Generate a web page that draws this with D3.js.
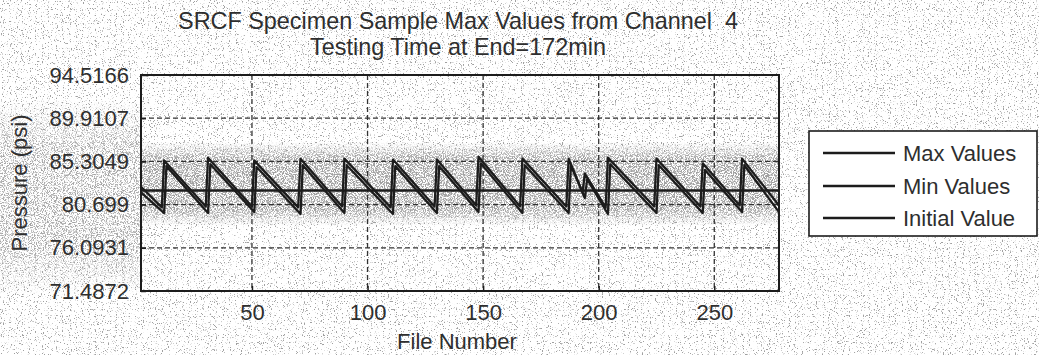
<!DOCTYPE html>
<html>
<head>
<meta charset="utf-8">
<script src="https://cdn.jsdelivr.net/npm/d3@7"></script>
<style>
  html, body { margin: 0; padding: 0; background: #fff; }
  svg { display: block; font-family: "Liberation Sans", Arial, sans-serif; }
</style>
</head>
<body>
<svg id="chart" width="1039" height="355"></svg>
<script>
// ---- data -------------------------------------------------------------
const fileRange = [2, 278];
const xTicks = [50, 100, 150, 200, 250];
const yTicks = [71.4872, 76.0931, 80.699, 85.3049, 89.9107, 94.5166];
const yTickLabels = ["71.4872", "76.0931", "80.699", "85.3049", "89.9107", "94.5166"];

// Max Values: file numbers and values at the corners of the sawtooth
const maxFiles = [2, 11, 12, 30, 31, 50, 51, 70, 71, 89, 90, 110, 111, 129, 130,
  147, 148, 166, 167, 186, 187, 193, 194, 203, 204, 224, 225, 244, 245, 261, 262, 278];
const maxValues = [82.6, 80.4, 85.4, 80.5, 85.7, 80.5, 85.4, 80.4, 85.6, 80.5, 85.6, 80.4, 85.5, 80.5, 85.5,
  80.6, 85.8, 80.5, 85.6, 80.5, 85.6, 82.0, 84.0, 80.4, 85.7, 80.5, 85.6, 80.5, 85.1, 80.6, 85.6, 80.6];

// Min Values
const minFiles = [2, 12, 13, 31, 32, 51, 52, 71, 72, 90, 91, 111, 112, 130, 131,
  148, 149, 167, 168, 187, 188, 194, 195, 204, 205, 225, 226, 245, 246, 262, 263, 278];
const minValues = [82.0, 79.8, 84.8, 79.8, 85.0, 79.9, 84.7, 79.7, 84.9, 79.8, 84.9, 79.7, 84.8, 79.8, 84.8,
  79.9, 85.1, 79.8, 84.9, 79.8, 84.9, 81.4, 83.4, 79.7, 85.0, 79.8, 84.9, 79.8, 84.4, 79.9, 84.9, 79.9];

const initialValue = 82.2;

const titleLines = ["SRCF Specimen Sample Max Values from Channel  4", "Testing Time at End=172min"];
const legendLabels = ["Max Values", "Min Values", "Initial Value"];

// ---- layout -----------------------------------------------------------
const svg = d3.select("#chart");
const W = 1039, H = 355;
const plot = { left: 141, right: 779, top: 75, bottom: 291 };
const ink = "#1c1c1c";
const textInk = "#2e2e2e";

const x = d3.scaleLinear().domain(fileRange).range([plot.left, plot.right]);
const y = d3.scaleLinear().domain([yTicks[0], yTicks[yTicks.length - 1]]).range([plot.bottom, plot.top]);

// ---- paper grain ------------------------------------------------------
const defs = svg.append("defs");
function grainFilter(id, seed, freq, gain, bias, tone) {
  const f = defs.append("filter").attr("id", id)
    .attr("x", 0).attr("y", 0).attr("width", "100%").attr("height", "100%")
    .attr("filterUnits", "objectBoundingBox");
  f.append("feTurbulence").attr("type", "fractalNoise")
    .attr("baseFrequency", freq).attr("numOctaves", 2).attr("seed", seed).attr("result", "n");
  f.append("feColorMatrix").attr("in", "n").attr("type", "matrix")
    .attr("values", `0 0 0 0 ${tone}  0 0 0 0 ${tone}  0 0 0 0 ${tone}  ${gain} 0 0 0 ${bias}`);
}
grainFilter("grainLight", 4, 0.85, 9, -5.5, 0.35);
grainFilter("grainBand", 9, 0.9, 6.5, -2.85, 0.36);
grainFilter("grainSide", 13, 0.9, 7, -3.5, 0.38);

function fadeMask(id, x0, y0, w, h, vertical, stops) {
  const g = defs.append("linearGradient").attr("id", id + "Grad")
    .attr("x1", 0).attr("y1", 0).attr("x2", vertical ? 0 : 1).attr("y2", vertical ? 1 : 0);
  stops.forEach(([o, a]) => g.append("stop").attr("offset", o)
    .attr("stop-color", "#fff").attr("stop-opacity", a));
  defs.append("mask").attr("id", id).attr("maskUnits", "userSpaceOnUse")
    .append("rect").attr("x", x0).attr("y", y0).attr("width", w).attr("height", h)
    .attr("fill", `url(#${id}Grad)`);
}
fadeMask("bandMask", 0, 142, W, 84, true, [[0, 0], [0.2, 1], [0.8, 1], [1, 0]]);
fadeMask("sideMask", 0, 100, 140, 195, true, [[0, 0], [0.25, 0.9], [0.75, 0.9], [1, 0]]);

svg.append("rect").attr("width", W).attr("height", H).attr("fill", "#fff");
svg.append("rect").attr("width", W).attr("height", H).attr("fill", "#fff")
  .attr("filter", "url(#grainLight)");
svg.append("g").attr("mask", "url(#sideMask)")
  .append("rect").attr("x", 0).attr("y", 100).attr("width", 140).attr("height", 195)
  .attr("fill", "#fff").attr("filter", "url(#grainSide)");
svg.append("g").attr("mask", "url(#bandMask)")
  .append("rect").attr("x", plot.left).attr("y", 142).attr("width", plot.right - plot.left).attr("height", 84)
  .attr("fill", "#fff").attr("filter", "url(#grainBand)");

// ---- grid -------------------------------------------------------------
const grid = svg.append("g").attr("stroke", "#333").attr("stroke-width", 1.3)
  .attr("stroke-dasharray", "5,3").attr("fill", "none");
grid.selectAll("line.gx").data(xTicks).join("line").attr("class", "gx")
  .attr("x1", d => x(d)).attr("x2", d => x(d)).attr("y1", plot.top).attr("y2", plot.bottom);
grid.selectAll("line.gy").data(yTicks.slice(1, -1)).join("line").attr("class", "gy")
  .attr("y1", d => y(d)).attr("y2", d => y(d)).attr("x1", plot.left).attr("x2", plot.right);

// ---- series -----------------------------------------------------------
const line = d3.line().x(d => x(d[0])).y(d => y(d[1]));
const maxSeries = d3.zip(maxFiles, maxValues);
const minSeries = d3.zip(minFiles, minValues);
const initSeries = [[fileRange[0], initialValue], [fileRange[1], initialValue]];

const series = svg.append("g").attr("fill", "none").attr("stroke", ink)
  .attr("stroke-linejoin", "round");
series.append("path").datum(initSeries).attr("d", line).attr("stroke-width", 2.4);
series.append("path").datum(minSeries).attr("d", line).attr("stroke-width", 2.3);
series.append("path").datum(maxSeries).attr("d", line).attr("stroke-width", 2.3);

// ---- axes -------------------------------------------------------------
const xAxis = d3.axisBottom(x).tickValues(xTicks).tickFormat(d3.format("d"))
  .tickSizeInner(-5).tickSizeOuter(0).tickPadding(13);
const yAxis = d3.axisLeft(y).tickValues(yTicks).tickFormat((d, i) => yTickLabels[i])
  .tickSizeInner(-5).tickSizeOuter(0).tickPadding(12);

function styleAxis(g) {
  g.select(".domain").remove();
  g.selectAll(".tick line").attr("stroke", ink).attr("stroke-width", 1.5);
  g.selectAll(".tick text").attr("fill", textInk).attr("font-size", 22)
    .attr("font-family", "Liberation Sans, Arial, sans-serif");
}
svg.append("g").attr("transform", `translate(0,${plot.bottom})`).call(xAxis).call(styleAxis);
svg.append("g").attr("transform", `translate(${plot.left},0)`).call(yAxis).call(styleAxis);

svg.append("rect").attr("x", plot.left).attr("y", plot.top)
  .attr("width", plot.right - plot.left).attr("height", plot.bottom - plot.top)
  .attr("fill", "none").attr("stroke", ink).attr("stroke-width", 2);

// ---- titles -----------------------------------------------------------
const cx = (plot.left + plot.right) / 2;
svg.selectAll("text.title").data(titleLines).join("text").attr("class", "title")
  .attr("x", cx - 2).attr("y", (d, i) => 29 + i * 26)
  .attr("text-anchor", "middle").attr("font-size", 23.4).attr("fill", textInk)
  .style("white-space", "pre").text(d => d);

svg.append("text").attr("x", cx - 3).attr("y", 349).attr("text-anchor", "middle")
  .attr("font-size", 22).attr("fill", textInk).text("File Number");

svg.append("text").attr("transform", `translate(27,${(plot.top + plot.bottom) / 2}) rotate(-90)`)
  .attr("text-anchor", "middle").attr("font-size", 22).attr("fill", textInk).text("Pressure (psi)");

// ---- legend -----------------------------------------------------------
const legend = svg.append("g");
legend.append("rect").attr("x", 809).attr("y", 131).attr("width", 228).attr("height", 105)
  .attr("fill", "#fff").attr("stroke", ink).attr("stroke-width", 1.6);
const rowY = [153, 186, 218];
const rows = legend.selectAll("g.row").data(legendLabels).join("g").attr("class", "row")
  .attr("transform", (d, i) => `translate(0,${rowY[i]})`);
rows.append("line").attr("x1", 823).attr("x2", 895).attr("y1", 0).attr("y2", 0)
  .attr("stroke", ink).attr("stroke-width", 2.6);
rows.append("text").attr("x", 903).attr("y", 0).attr("dy", "0.36em")
  .attr("font-size", 22).attr("fill", textInk).text(d => d);
</script>
</body>
</html>
